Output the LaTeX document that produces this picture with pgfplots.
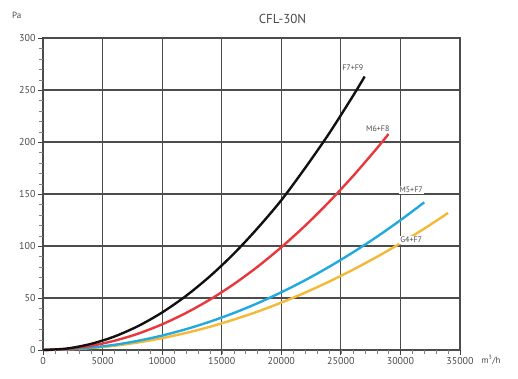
\documentclass[border=0pt]{standalone}
\usepackage{pgfplots}
\pgfplotsset{compat=1.18}
\usepackage{fontspec}
\setmainfont{PT Sans}
\definecolor{txt}{HTML}{4A4A4A}
\definecolor{cblack}{HTML}{111111}
\definecolor{cred}{HTML}{E8383D}
\definecolor{cblue}{HTML}{22A9DE}
\definecolor{cyel}{HTML}{F4B937}
\begin{document}
\begin{tikzpicture}
\begin{axis}[
  scale only axis, width=417pt, height=312pt,
  xmin=0, xmax=35000, ymin=0, ymax=300,
  xtick={0,5000,...,35000}, ytick={0,50,...,300},
  scaled x ticks=false,
  axis line style={draw=black!70, line width=1.1pt},
  grid=major,
  major grid style={draw=black!70, line width=1.1pt},
  major tick length=0pt,
  /pgf/number format/set thousands separator={},
  /pgf/number format/assume math mode=true,
  tick label style={font=\fontsize{10}{12}\selectfont, text=txt},
  xticklabel style={yshift=-4pt}, yticklabel style={xshift=-4pt},
  clip=false,
]
\addplot[cyel, line width=2.4pt, smooth] coordinates {(0,0) (2000,0.6) (4000,1.9) (6000,4.1) (8000,7.3) (10000,11.4) (12000,16.4) (14000,22.3) (16000,29.2) (18000,36.9) (20000,45.6) (22000,55.2) (24000,65.7) (26000,77.1) (28000,89.4) (30000,102.6) (32000,116.7) (34000,131.8)};
\addplot[cblue, line width=2.4pt, smooth] coordinates {(0,0) (2000,0.7) (4000,2.3) (6000,5.0) (8000,8.9) (10000,13.9) (12000,20.0) (14000,27.2) (16000,35.5) (18000,44.9) (20000,55.5) (22000,67.1) (24000,79.9) (26000,93.8) (28000,108.7) (30000,124.8) (32000,142)};
\addplot[cred, line width=2.4pt, smooth] coordinates {(0,0) (2000,1.0) (4000,4.0) (6000,8.9) (8000,15.8) (10000,24.7) (12000,35.6) (14000,48.4) (16000,63.2) (18000,80.0) (20000,98.8) (22000,119.5) (24000,142.3) (26000,167) (28000,193.6) (29000,207.7)};
\addplot[cblack, line width=2.4pt, smooth] coordinates {(0,0) (2000,1.4) (4000,5.8) (6000,13.0) (8000,23.1) (10000,36.1) (12000,52.0) (14000,70.8) (16000,92.4) (18000,117) (20000,144) (22000,175) (24000,208) (26000,244) (27000,263)};
\node[font=\fontsize{8}{9}\selectfont, text=txt] at (axis cs:26000,271) {F7+F9};
\node[font=\fontsize{8}{9}\selectfont, text=txt] at (axis cs:28100,213) {M6+F8};
\node[font=\fontsize{8}{9}\selectfont, text=txt, fill=white, inner sep=1pt] at (axis cs:30900,154) {M5+F7};
\node[font=\fontsize{8}{9}\selectfont, text=txt, fill=white, inner sep=1pt] at (axis cs:30900,106) {G4+F7};
\node[font=\fontsize{13}{15}\selectfont, text=txt] at (axis cs:20100,318) {CFL-30N};
\node[font=\fontsize{9}{11}\selectfont, text=txt] at (axis cs:-2200,322) {Pa};
\node[font=\fontsize{9}{11}\selectfont, text=txt, anchor=west] at (axis cs:36500,-10) {m\textsuperscript{3}/h};
\end{axis}
\begin{axis}[
  scale only axis, width=536.143pt, height=416pt,
  xmin=0, xmax=45000, ymin=0, ymax=400,
  xtick={0,5000,...,35000}, ytick={0,50,...,300},
  minor xtick={1000,2000,...,34000}, minor ytick={10,20,...,290},
  scaled x ticks=false,
  axis line style={draw=none},
  tick align=outside,
  major tick length=5pt, minor tick length=3.5pt,
  every major tick/.append style={draw=black!75, line width=1pt},
  xticklabels={}, yticklabels={},
]
\end{axis}
\pgfresetboundingbox
\useasboundingbox (-43pt,-28pt) rectangle (475pt,350pt);
\end{tikzpicture}
\end{document}
